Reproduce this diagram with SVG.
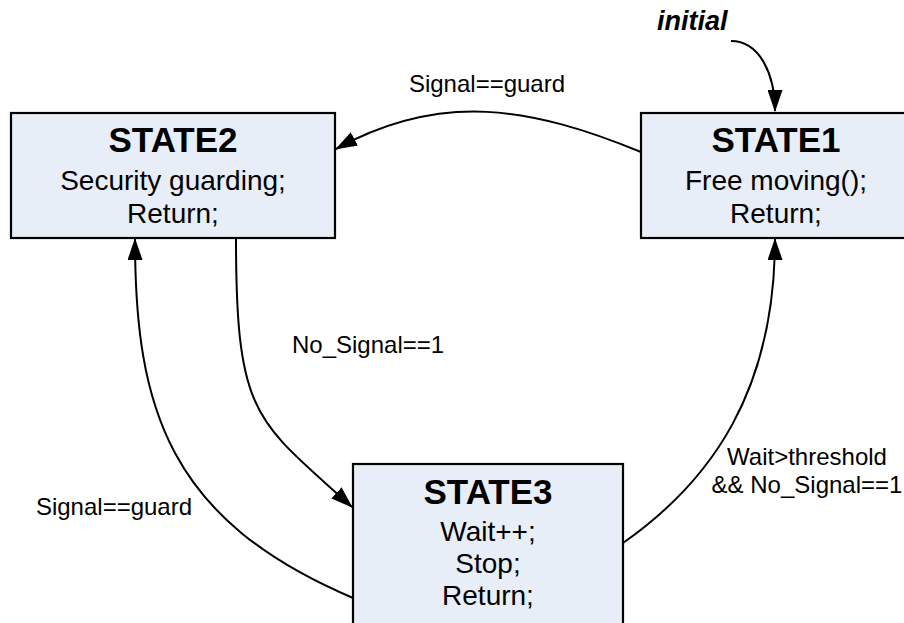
<svg xmlns="http://www.w3.org/2000/svg" width="904" height="623" viewBox="0 0 904 623">
  <style>
    .box { fill: #e8eef8; stroke: #000; stroke-width: 2.2; }
    .title { font-family: "Liberation Sans", Arial, sans-serif; font-weight: bold; font-size: 35px; text-anchor: middle; fill: #000; }
    .body { font-family: "Liberation Sans", Arial, sans-serif; font-size: 28px; text-anchor: middle; fill: #000; }
    .label { font-family: "Liberation Sans", Arial, sans-serif; font-size: 24px; fill: #000; }
    .edge { fill: none; stroke: #000; stroke-width: 2; marker-end: url(#arrow); }
  </style>
  <defs>
    <marker id="arrow" markerUnits="userSpaceOnUse" markerWidth="22" markerHeight="15" refX="21" refY="7.5" orient="auto">
      <path d="M0,0 L22,7.5 L0,15 z" fill="#000"/>
    </marker>
  </defs>
  <rect width="904" height="623" fill="#fff"/>

  <!-- transitions -->
  <g id="connectors">
    <path class="edge" d="M731,41 C760,41 775,75 775,111"/>
    <path class="edge" d="M641,152 C531,107 441,91 336,149"/>
    <path class="edge" d="M236,238 C236,418 256,420 352,507"/>
    <path class="edge" d="M353,598 C169,520 135,409 135,239"/>
    <path class="edge" d="M623,543 C713,480 775,389 775,239"/>
    <text class="label" x="657" y="30" style="font-weight:bold;font-style:italic;font-size:27px">initial</text>
    <text class="label" x="487" y="92" text-anchor="middle">Signal==guard</text>
    <text class="label" x="292" y="353">No_Signal==1</text>
    <text class="label" x="114" y="515" text-anchor="middle">Signal==guard</text>
    <text class="label" x="807" y="465" text-anchor="middle">Wait&gt;threshold</text>
    <text class="label" x="807" y="493" text-anchor="middle">&amp;&amp; No_Signal==1</text>
  </g>

  <g id="state2">
    <rect class="box" x="11" y="113" width="324" height="125"/>
    <text class="title" x="173" y="152">STATE2</text>
    <text class="body" x="173" y="190">Security guarding;</text>
    <text class="body" x="173" y="223">Return;</text>
  </g>

  <g id="state1">
    <rect class="box" x="641" y="113" width="270" height="125"/>
    <text class="title" x="776" y="152">STATE1</text>
    <text class="body" x="776" y="190">Free moving();</text>
    <text class="body" x="776" y="223">Return;</text>
  </g>

  <g id="state3">
    <rect class="box" x="353" y="464" width="270" height="175"/>
    <text class="title" x="488" y="504">STATE3</text>
    <text class="body" x="488" y="541">Wait++;</text>
    <text class="body" x="488" y="573">Stop;</text>
    <text class="body" x="488" y="605">Return;</text>
  </g>
</svg>
